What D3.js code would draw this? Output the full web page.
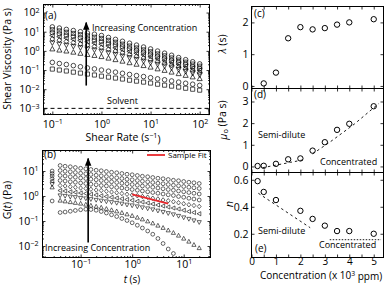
<!DOCTYPE html>
<html>
<head>
<meta charset="utf-8">
<script src="https://cdn.jsdelivr.net/npm/d3@7"></script>
<style>
  body { margin: 0; background: #fff; }
  svg { display: block; }
  text { font-family: 'Open Sans', 'DejaVu Sans', sans-serif; fill: #000; }
</style>
</head>
<body>
<svg id="fig" width="390" height="286"></svg>
<script>
// ---------------- data ----------------
// (a) steady shear viscosity, log10(Pa s), one list per sample (top to bottom)
var shearRate = [0.1, 0.139, 0.193, 0.268, 0.373, 0.518, 0.72, 1, 1.39, 1.93, 2.68, 3.73, 5.18, 7.2, 10, 13.9, 19.3, 26.8, 37.3, 51.8, 72, 100]
var eta1 = [1.25, 1.19, 1.12, 1.06, 1.00, 0.93, 0.87, 0.80, 0.70, 0.60, 0.50, 0.40, 0.30, 0.20, 0.10, -0.01, -0.12, -0.23, -0.35, -0.46, -0.57, -0.68]
var eta2 = [1.10, 1.04, 0.97, 0.91, 0.84, 0.78, 0.71, 0.65, 0.55, 0.45, 0.35, 0.25, 0.15, 0.05, -0.05, -0.16, -0.26, -0.37, -0.48, -0.59, -0.69, -0.80]
var eta3 = [0.95, 0.89, 0.82, 0.76, 0.69, 0.63, 0.56, 0.50, 0.40, 0.31, 0.21, 0.11, 0.02, -0.08, -0.18, -0.29, -0.39, -0.50, -0.60, -0.71, -0.82, -0.92]
var eta4 = [0.80, 0.74, 0.67, 0.61, 0.54, 0.48, 0.41, 0.35, 0.26, 0.16, 0.07, -0.03, -0.12, -0.21, -0.31, -0.41, -0.51, -0.61, -0.71, -0.82, -0.92, -1.02]
var eta5 = [0.62, 0.56, 0.49, 0.43, 0.36, 0.30, 0.23, 0.17, 0.08, -0.01, -0.10, -0.19, -0.28, -0.37, -0.46, -0.56, -0.65, -0.75, -0.84, -0.94, -1.03, -1.13]
var eta6 = [0.42, 0.36, 0.30, 0.24, 0.17, 0.11, 0.05, -0.01, -0.10, -0.18, -0.27, -0.35, -0.44, -0.53, -0.61, -0.70, -0.79, -0.88, -0.97, -1.07, -1.16, -1.25]
var eta7 = [0.10, 0.04, -0.01, -0.07, -0.13, -0.19, -0.24, -0.30, -0.38, -0.46, -0.54, -0.62, -0.70, -0.77, -0.85, -0.94, -1.02, -1.11, -1.19, -1.28, -1.36, -1.45]
var eta8 = [-0.60, -0.66, -0.71, -0.77, -0.83, -0.89, -0.94, -1.00, -1.06, -1.11, -1.17, -1.23, -1.29, -1.34, -1.40, -1.46, -1.51, -1.57, -1.63, -1.69, -1.74, -1.80]
var eta9 = [-0.95, -1.00, -1.05, -1.11, -1.16, -1.21, -1.26, -1.32, -1.37, -1.42, -1.47, -1.53, -1.58, -1.63, -1.68, -1.74, -1.79, -1.84, -1.89, -1.95, -2.00, -2.05]
var etaShapes = ['circle', 'square', 'circle', 'left', 'diamond', 'down', 'up', 'circle', 'square']
var solventEta = 0.001

// (b) relaxation modulus G(t), log10(Pa)
var relaxT = [0.028, 0.04, 0.05, 0.063, 0.079, 0.1, 0.126, 0.158, 0.2, 0.251, 0.316, 0.398, 0.501, 0.631, 0.794, 1, 1.26, 1.58, 2, 2.51, 3.16, 3.98, 5.01, 6.31, 7.94, 10, 12.6, 15.8, 20]
var gt1 = [null, 1.22, 1.19, 1.17, 1.14, 1.11, 1.09, 1.06, 1.03, 1.01, 0.98, 0.95, 0.93, 0.90, 0.87, 0.85, 0.82, 0.79, 0.77, 0.74, 0.71, 0.69, 0.66, 0.63, 0.61, 0.58, 0.55, 0.53, 0.50]
var gt2 = [1.00, 1.02, 0.99, 0.97, 0.94, 0.91, 0.89, 0.86, 0.83, 0.81, 0.78, 0.75, 0.73, 0.70, 0.67, 0.65, 0.62, 0.59, 0.57, 0.54, 0.51, 0.49, 0.46, 0.43, 0.41, 0.38, 0.35, 0.33, 0.30]
var gt3 = [0.90, 0.82, 0.80, 0.77, 0.75, 0.72, 0.70, 0.67, 0.65, 0.62, 0.59, 0.57, 0.54, 0.51, 0.49, 0.46, 0.43, 0.40, 0.38, 0.35, 0.32, 0.29, 0.26, 0.23, 0.20, 0.17, 0.14, 0.11, 0.08]
var gt4 = [0.80, 0.62, 0.60, 0.57, 0.55, 0.52, 0.50, 0.47, 0.45, 0.42, 0.40, 0.37, 0.34, 0.32, 0.29, 0.26, 0.23, 0.20, 0.17, 0.14, 0.11, 0.08, 0.05, 0.02, -0.02, -0.05, -0.09, -0.12, -0.16]
var gt5 = [0.70, 0.42, 0.40, 0.37, 0.35, 0.32, 0.30, 0.27, 0.24, 0.22, 0.19, 0.16, 0.13, 0.10, 0.07, 0.04, 0.01, -0.02, -0.05, -0.09, -0.12, -0.16, -0.19, -0.23, -0.27, -0.31, -0.35, -0.38, -0.42]
var gt6 = [0.60, 0.22, 0.20, 0.17, 0.15, 0.12, 0.10, 0.07, 0.04, 0.01, -0.02, -0.05, -0.08, -0.11, -0.14, -0.17, -0.21, -0.24, -0.28, -0.32, -0.36, -0.40, -0.44, -0.48, -0.52, -0.57, -0.62, -0.66, -0.71]
var gt7 = [0.47, 0.02, 0.00, -0.03, -0.05, -0.08, -0.10, -0.13, -0.16, -0.19, -0.22, -0.25, -0.28, -0.31, -0.35, -0.38, -0.42, -0.46, -0.50, -0.54, -0.59, -0.64, -0.69, -0.74, -0.80, -0.86, -0.92, -0.98, -1.05]
var gt8 = [0.35, -0.18, -0.21, -0.24, -0.27, -0.30, -0.34, -0.38, -0.42, -0.46, -0.51, -0.56, -0.61, -0.67, -0.73, -0.79, -0.86, -0.93, -1.01, -1.09, -1.18, -1.27, -1.37, -1.47, -1.58, -1.70, -1.82, -1.95, -2.08]
var gt9 = [-0.20, -0.66, -0.64, -0.61, -0.58, -0.55, -0.53, -0.54, -0.57, -0.62, -0.68, -0.75, -0.82, -0.90, -0.98, -1.07, -1.17, -1.28, -1.40, -1.53, -1.70, -1.90, -2.12, -2.30, null, null, null, null, null]
var gtShapes = ['circle', 'circle', 'circle', 'circle', 'diamond', 'left', 'down', 'up', 'circle']
var fitT = [1, 5]
var fitG = [1.15, 0.5]

// (c)-(e) fitted parameters vs concentration (x 10^3 ppm)
var concLambda = [0.5, 1, 1.5, 2, 2.5, 3, 3.5, 4, 5]
var lambda = [0.08, 0.42, 1.5, 1.85, 1.78, 1.82, 1.93, 2.0, 2.1]
var concMu = [0.25, 0.5, 1, 1.5, 2, 2.5, 3, 3.5, 4, 5]
var mu0 = [0.02, 0.03, 0.12, 0.33, 0.37, 0.73, 1.12, 1.69, 1.97, 2.78]
var concN = [0.25, 0.5, 1, 2, 2.5, 3, 3.5, 4, 5]
var nIndex = [0.59, 0.51, 0.45, 0.37, 0.31, 0.26, 0.22, 0.22, 0.20]
// dashed scaling guides
var muDiluteFit = [[0.45, -0.06], [1.0, 0.06], [1.6, 0.19], [2.1, 0.30]]
var muConcFit = [[2.5, 0.58], [3.3, 1.2], [4.2, 1.95], [5.2, 2.9]]
var nDiluteFit = [[0.28, 0.5], [2.4, 0.245]]
var nConcFit = [[3.2, 0.156], [5.3, 0.156]]

// ---------------- drawing ----------------
var svg = d3.select('#fig')
var ink = '#000'
var tickFont = 10.5
var clipCount = 0

var boxA = {x0: 43.5, x1: 209.5, y0: 4.5, y1: 114.5}
var boxB = {x0: 42.5, x1: 210.5, y0: 150.5, y1: 257.5}
var boxC = {x0: 251.5, x1: 383.5, y0: 6.5, y1: 88.5}
var boxD = {x0: 251.5, x1: 383.5, y0: 88.5, y1: 172.5}
var boxE = {x0: 251.5, x1: 383.5, y0: 172.5, y1: 257.5}

svg.append('defs').append('marker')
    .attr('id', 'arrow')
    .attr('viewBox', '0 0 10 10')
    .attr('refX', 9).attr('refY', 5)
    .attr('markerWidth', 5).attr('markerHeight', 5)
    .attr('orient', 'auto')
  .append('path')
    .attr('d', 'M0,1L10,5L0,9Z')
    .attr('fill', ink)

function marker (shape, r) {
  switch (shape) {
    case 'circle': return d3.symbol(d3.symbolCircle, Math.PI * r * r)()
    case 'square': return `M${-r * 0.9},${-r * 0.9}h${r * 1.8}v${r * 1.8}h${-r * 1.8}Z`
    case 'diamond': return `M0,${-r * 1.2}L${r},0L0,${r * 1.2}L${-r},0Z`
    case 'up': return `M0,${-r * 1.15}L${r * 1.1},${r * 0.85}L${-r * 1.1},${r * 0.85}Z`
    case 'down': return `M0,${r * 1.15}L${r * 1.1},${-r * 0.85}L${-r * 1.1},${-r * 0.85}Z`
    case 'left': return `M${-r * 1.15},0L${r * 0.85},${-r * 1.1}L${r * 0.85},${r * 1.1}Z`
  }
}

function makePanel (b) {
  var id = 'clip' + (clipCount++)
  svg.append('clipPath').attr('id', id).append('rect')
      .attr('x', b.x0).attr('y', b.y0)
      .attr('width', b.x1 - b.x0).attr('height', b.y1 - b.y0)
  var g = svg.append('g')
  var plot = g.append('g').attr('clip-path', `url(#${id})`)
  return {g: g, plot: plot, box: b}
}

function frame (p) {
  var b = p.box
  p.g.append('rect')
      .attr('x', b.x0).attr('y', b.y0)
      .attr('width', b.x1 - b.x0).attr('height', b.y1 - b.y0)
      .attr('fill', 'none').attr('stroke', ink).attr('stroke-width', 1)
}

// inward ticks on one side, labels optional
function axis (g, orient, scale, at, values, size, fmt, pad, fs) {
  var maker = {bottom: d3.axisBottom, top: d3.axisTop, left: d3.axisLeft, right: d3.axisRight}[orient]
  var ax = maker(scale).tickValues(values).tickSizeInner(-size).tickSizeOuter(0)
      .tickPadding(pad === undefined ? 3 : pad).tickFormat(typeof fmt === 'function' ? fmt : () => '')
  var tr = (orient === 'bottom' || orient === 'top') ? `translate(0,${at})` : `translate(${at},0)`
  var a = g.append('g').attr('transform', tr).call(ax)
      .attr('font-size', null).attr('font-family', null)
  a.select('.domain').remove()
  a.selectAll('line').attr('stroke', ink).attr('stroke-width', 0.8)
  a.selectAll('text').attr('font-size', fs || tickFont).attr('fill', ink)
  if (fmt === 'pow') {
    a.selectAll('text').each(function (d) {
      var e = Math.round(Math.log10(d))
      var t = d3.select(this).text(null)
      t.append('tspan').text('10')
      t.append('tspan').attr('dy', '-0.5em').attr('font-size', '0.68em')
          .text(e < 0 ? '\u2212' + (-e) : e)
    })
  }
  return a
}

function logTicks (dom) {
  var lo = Math.floor(Math.log10(dom[0]))
  var hi = Math.ceil(Math.log10(dom[1]))
  var major = []
  var minor = []
  for (var e = lo; e <= hi; e++) {
    for (var m = 1; m < 10; m++) {
      var v = m * Math.pow(10, e)
      if (v < dom[0] || v > dom[1]) continue
      if (m === 1) major.push(v)
      else minor.push(v)
    }
  }
  return {major: major, minor: minor}
}

function logFrameAxes (p, x, y, xPad, yPad) {
  var b = p.box
  var xt = logTicks(x.domain())
  var yt = logTicks(y.domain())
  axis(p.g, 'bottom', x, b.y1, xt.major, 3, 'pow', xPad)
  axis(p.g, 'bottom', x, b.y1, xt.minor, 1.5)
  axis(p.g, 'top', x, b.y0, xt.major, 3)
  axis(p.g, 'top', x, b.y0, xt.minor, 1.5)
  axis(p.g, 'left', y, b.x0, yt.major, 3, 'pow', yPad)
  axis(p.g, 'left', y, b.x0, yt.minor, 1.5)
  axis(p.g, 'right', y, b.x1, yt.major, 3)
  axis(p.g, 'right', y, b.x1, yt.minor, 1.5)
}

function label (g, x, y, txt, size, anchor) {
  return g.append('text').attr('x', x).attr('y', y)
      .attr('font-size', size).attr('text-anchor', anchor || 'start').text(txt)
}

function yTitle (g, x, y, size) {
  return g.append('text')
      .attr('transform', `translate(${x},${y}) rotate(-90)`)
      .attr('text-anchor', 'middle')
      .attr('dominant-baseline', 'central')
      .attr('font-size', size)
}

function arrow (g, x1, y1, x2, y2) {
  g.append('line')
      .attr('x1', x1).attr('y1', y1).attr('x2', x2).attr('y2', y2)
      .attr('stroke', ink).attr('stroke-width', 1.6)
      .attr('marker-end', 'url(#arrow)')
}

/*
    --------------------------------------
    (a) shear viscosity
*/
var pa = makePanel(boxA)
var xA = d3.scaleLog().domain([Math.pow(10, -1.18), Math.pow(10, 2.2)]).range([boxA.x0, boxA.x1])
var yA = d3.scaleLog().domain([Math.pow(10, -3.32), Math.pow(10, 2.42)]).range([boxA.y1, boxA.y0])

pa.plot.append('line')
    .attr('x1', boxA.x0).attr('x2', boxA.x1)
    .attr('y1', yA(solventEta)).attr('y2', yA(solventEta))
    .attr('stroke', ink).attr('stroke-width', 1).attr('stroke-dasharray', '4,3')

;[eta1, eta2, eta3, eta4, eta5, eta6, eta7, eta8, eta9].forEach(function (vals, i) {
  pa.plot.append('g').selectAll('path')
      .data(vals)
      .join('path')
      .attr('transform', (v, k) => `translate(${xA(shearRate[k])},${yA(Math.pow(10, v))})`)
      .attr('d', marker(etaShapes[i], 2.3))
      .attr('fill', 'none').attr('stroke', ink).attr('stroke-width', 0.7)
})

arrow(pa.g, xA(0.49), yA(0.0155), xA(0.49), yA(30))
label(pa.g, 92, 31, 'Increasing Concentration', 9)
label(pa.g, 107, 104, 'Solvent', 9)
label(pa.g, 45, 19, '(a)', 10)
frame(pa)
logFrameAxes(pa, xA, yA, 6, 4)

yTitle(svg, 7, 59, 10.5).text('Shear Viscosity (Pa s)')
var tA = label(svg, 123, 141, '', 10.5, 'middle')
tA.append('tspan').text('Shear Rate (s')
tA.append('tspan').attr('dy', '-0.45em').attr('font-size', '0.68em').text('\u22121')
tA.append('tspan').attr('dy', '0.45em').text(')')

/*
    --------------------------------------
    (b) relaxation modulus
*/
var pb = makePanel(boxB)
var xB = d3.scaleLog().domain([Math.pow(10, -1.74), Math.pow(10, 1.52)]).range([boxB.x0, boxB.x1])
var yB = d3.scaleLog().domain([Math.pow(10, -2.46), Math.pow(10, 1.82)]).range([boxB.y1, boxB.y0])

;[gt1, gt2, gt3, gt4, gt5, gt6, gt7, gt8, gt9].forEach(function (vals, i) {
  var pts = vals.map((v, k) => [relaxT[k], v]).filter(d => d[1] !== null)
  pb.plot.append('g').selectAll('path')
      .data(pts)
      .join('path')
      .attr('transform', d => `translate(${xB(d[0])},${yB(Math.pow(10, d[1]))})`)
      .attr('d', marker(gtShapes[i], 1.9))
      .attr('fill', 'none').attr('stroke', ink).attr('stroke-width', 0.6)
})

pb.plot.append('line')
    .attr('x1', xB(fitT[0])).attr('y1', yB(fitG[0]))
    .attr('x2', xB(fitT[1])).attr('y2', yB(fitG[1]))
    .attr('stroke', '#e8262b').attr('stroke-width', 1.8)

arrow(pb.g, xB(0.14), yB(0.0138), xB(0.14), yB(31.6))
label(pb.g, 45, 251, 'Increasing Concentration', 9)
label(pb.g, 44, 158, '(b)', 10)
pb.g.append('line').attr('x1', 147).attr('x2', 165).attr('y1', 155).attr('y2', 155)
    .attr('stroke', '#e8262b').attr('stroke-width', 1.8)
label(pb.g, 168, 158, 'Sample Fit', 8)
frame(pb)
logFrameAxes(pb, xB, yB, 3, 4)

var tB = yTitle(svg, 7, 200, 10.5)
tB.append('tspan').text('G(')
tB.append('tspan').attr('font-style', 'italic').text('t')
tB.append('tspan').text(') (Pa)')
var tBx = label(svg, 132, 282.5, '', 10, 'middle')
tBx.append('tspan').attr('font-style', 'italic').text('t')
tBx.append('tspan').text(' (s)')

/*
    --------------------------------------
    (c)-(e) parameters vs concentration
*/
var xC = d3.scaleLinear().domain([0, 5.4]).range([boxC.x0, boxC.x1])
var xTicks = [0, 0.5, 1, 1.5, 2, 2.5, 3, 3.5, 4, 4.5, 5]

function concPanel (b, ydom, yticks, yfmt, xs, ys, labelBottom) {
  var p = makePanel(b)
  var y = d3.scaleLinear().domain(ydom).range([b.y1, b.y0])
  p.y = y
  p.plot.selectAll('path.pt')
      .data(ys)
      .join('path')
      .attr('class', 'pt')
      .attr('transform', (v, i) => `translate(${xC(xs[i])},${y(v)})`)
      .attr('d', marker('circle', 2.7))
      .attr('fill', 'none').attr('stroke', ink).attr('stroke-width', 1)
  frame(p)
  axis(p.g, 'bottom', xC, b.y1, xTicks, 3,
      labelBottom ? (d => (d % 1 === 0 ? d : '')) : null, 0, 10)
  axis(p.g, 'top', xC, b.y0, xTicks, 3)
  axis(p.g, 'left', y, b.x0, yticks, 3, yfmt, 3)
  axis(p.g, 'right', y, b.x1, yticks, 3)
  return p
}

function guide (p, pts, dash) {
  p.plot.append('path')
      .attr('d', d3.line().x(d => xC(d[0])).y(d => p.y(d[1]))(pts))
      .attr('fill', 'none').attr('stroke', ink).attr('stroke-width', 0.9)
      .attr('stroke-dasharray', dash)
}

var pc = concPanel(boxC, [-0.08, 2.5], [0, 1, 2], d => d, concLambda, lambda, false)
label(pc.g, 254, 17, '(c)', 10)

var pd = concPanel(boxD, [-0.28, 3.6], [0, 1, 2, 3], d => d, concMu, mu0, false)
guide(pd, muDiluteFit, '2.5,3')
guide(pd, muConcFit, '2.5,3')
label(pd.g, 254, 98, '(d)', 10)
label(pd.g, 258, 138, 'Semi-dilute', 9)
label(pd.g, 320, 165, 'Concentrated', 9)

var pe = concPanel(boxE, [0.024, 0.654], [0.2, 0.4, 0.6], d => d3.format('.1f')(d), concN, nIndex, true)
guide(pe, nDiluteFit, '2.5,3')
guide(pe, nConcFit, '1.5,1.5')
label(pe.g, 255, 252, '(e)', 10)
label(pe.g, 258, 234, 'Semi-dilute', 9)
label(pe.g, 319, 248, 'Concentrated', 9)

var tC = yTitle(svg, 222, 44, 10.5)
tC.append('tspan').attr('font-style', 'italic').text('\u03bb')
tC.append('tspan').text(' (s)')
var tD = yTitle(svg, 223, 120, 10.5)
tD.append('tspan').attr('font-style', 'italic').text('\u03bc')
tD.append('tspan').attr('dy', '0.3em').attr('font-size', '0.7em').text('o')
tD.append('tspan').attr('dy', '-0.3em').text(' (Pa s)')
yTitle(svg, 228, 204, 11).attr('font-style', 'italic').text('n')

var tE = label(svg, 321, 279, '', 10, 'middle')
tE.append('tspan').text('Concentration (x 10')
tE.append('tspan').attr('dy', '-0.45em').attr('font-size', '0.68em').text('3')
tE.append('tspan').attr('dy', '0.45em').text(' ppm)')
</script>
</body>
</html>
